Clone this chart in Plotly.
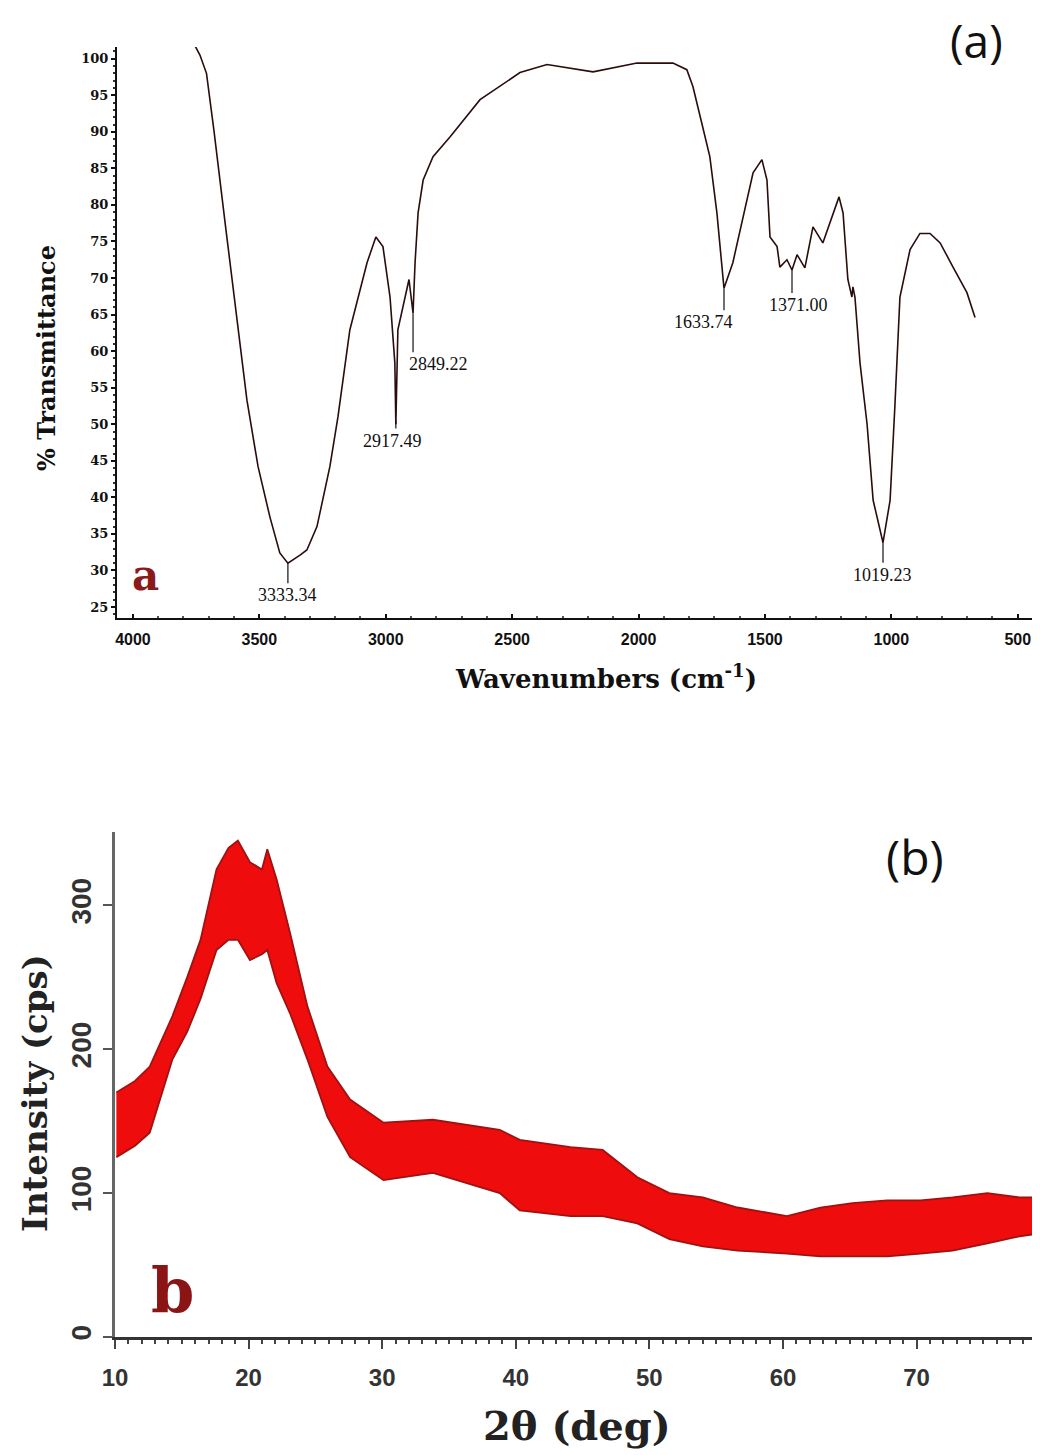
import plotly.graph_objects as go

# ---------------- FTIR data (panel a) ----------------
ftir_wn = [3755, 3735, 3709, 3680, 3632, 3569, 3549, 3505, 3458, 3419, 3387, 3339, 3312,
           3272, 3221, 3189, 3142, 3074, 3039, 3011, 2983, 2964, 2960, 2952, 2924, 2908,
           2892, 2884, 2872, 2852, 2813, 2746, 2627, 2469, 2362, 2180, 2006, 1864, 1809,
           1785, 1750, 1718, 1690, 1662, 1627, 1587, 1547, 1512, 1492, 1480, 1452, 1441,
           1413, 1393, 1373, 1342, 1310, 1271, 1235, 1207, 1191, 1172, 1156, 1152, 1144,
           1124, 1096, 1072, 1033, 1005, 986, 966, 926, 887, 847, 807, 756, 701, 669]
ftir_T = [101.8, 100.5, 98.0, 90.3, 76.6, 58.4, 53.3, 44.2, 37.3, 32.4, 31.0, 32.1, 32.8,
          36.0, 44.2, 51.0, 62.9, 72.1, 75.6, 74.3, 67.4, 58.4, 50.0, 62.9, 67.4, 69.8,
          65.2, 72.1, 78.9, 83.4, 86.6, 89.3, 94.4, 98.1, 99.2, 98.2, 99.4, 99.4, 98.5,
          96.2, 91.2, 86.6, 78.9, 68.6, 72.1, 78.4, 84.4, 86.2, 83.4, 75.6, 74.3, 71.5,
          72.5, 71.1, 73.2, 71.4, 77.0, 74.8, 78.4, 81.1, 78.9, 69.8, 67.4, 68.8, 67.4,
          58.4, 50.0, 39.6, 33.8, 39.6, 52.5, 67.4, 73.9, 76.1, 76.1, 74.8, 71.5, 68.0, 64.6]

peak_wn = [3387, 2960, 2892, 1662, 1393, 1033]
peak_T = [31.0, 50.5, 65.2, 68.6, 71.1, 33.8]
peak_text = ["3333.34", "2917.49", "2849.22", "1633.74", "1371.00", "1019.23"]

ftir_xticks = [4000, 3500, 3000, 2500, 2000, 1500, 1000, 500]
ftir_yticks = [25, 30, 35, 40, 45, 50, 55, 60, 65, 70, 75, 80, 85, 90, 95, 100]

# ---------------- XRD data (panel b): envelope of the noisy band ----------------
xrd_2theta = [10.1, 11.5, 12.6, 14.3, 15.4, 16.4, 17.6, 18.5, 19.2, 20.1, 21.0, 21.4, 22.1,
              23.1, 24.4, 25.9, 27.6, 30.1, 33.8, 36.0, 38.8, 40.3, 44.1, 46.5, 49.1, 51.5,
              54.0, 56.6, 60.3, 62.8, 65.2, 67.8, 70.3, 72.7, 75.3, 77.7, 79.2]
xrd_upper = [170, 178, 188, 223, 250, 276, 325, 340, 345, 330, 325, 339, 318,
             281, 230, 188, 165, 149, 151, 148, 144, 137, 132, 130, 111, 100,
             97, 90, 84, 90, 93, 95, 95, 97, 100, 97, 97]
xrd_lower = [125, 133, 142, 193, 212, 235, 269, 276, 276, 262, 266, 269, 246,
             225, 193, 153, 125, 109, 114, 108, 100, 88, 84, 84, 79, 68,
             63, 60, 58, 56, 56, 56, 58, 60, 65, 70, 72]

xrd_xticks = [10, 20, 30, 40, 50, 60, 70]
xrd_yticks = [0, 100, 200, 300]

W, H = 1040, 1455
OFF = 8  # page body margin


def px(x):
    return (x - OFF) / W


def py(y):
    return 1 - (y - OFF) / H


fig = go.Figure()

fig.add_trace(go.Scatter(x=ftir_wn, y=ftir_T, mode="lines",
                         line=dict(color="#2a0c0c", width=1.6),
                         xaxis="x", yaxis="y", showlegend=False, hoverinfo="skip"))

band_x = xrd_2theta + xrd_2theta[::-1]
band_y = xrd_upper + xrd_lower[::-1]
fig.add_trace(go.Scatter(x=band_x, y=band_y, mode="lines", fill="toself",
                         fillcolor="#ee0c0c", line=dict(color="#a01212", width=1.8),
                         xaxis="x2", yaxis="y2", showlegend=False, hoverinfo="skip"))

line_len = [20, 8, 39, 22, 23, 20]
text_dx = [0, -3, 25, -20, 6, -1]
shapes = []
annotations = []
for wn, t, txt, L, dx in zip(peak_wn, peak_T, peak_text, line_len, text_dx):
    shapes.append(dict(type="line", xref="x", yref="y", ysizemode="pixel", yanchor=t,
                       x0=wn, x1=wn, y0=0, y1=-L, line=dict(color="#111", width=1.2)))
    annotations.append(dict(x=wn, y=t, xref="x", yref="y", text=txt, showarrow=False,
                            yanchor="top", xanchor="center", yshift=-L, xshift=dx,
                            font=dict(family="Liberation Serif", size=18, color="#111")))


def label(x, y, text, size, family, color, angle=0):
    return dict(x=px(x), y=py(y), xref="paper", yref="paper", text=text, showarrow=False,
                xanchor="center", yanchor="middle", textangle=angle,
                font=dict(family=family, size=size, color=color))


annotations += [
    label(46, 358, "<b>% Transmittance</b>", 24, "DejaVu Serif", "#111", -90),
    label(606, 677, "<b>Wavenumbers (cm<sup>-1</sup>)</b>", 26, "DejaVu Serif", "#111"),
    label(976, 40, "(a)", 46, "Open Sans", "#111"),
    label(145, 576, "<b>a</b>", 42, "DejaVu Serif", "#8b1a1a"),
    label(35, 1093, "<b>Intensity (cps)</b>", 34, "DejaVu Serif", "#222", -90),
    label(577, 1425, "<b>2θ (deg)</b>", 40, "DejaVu Serif", "#222"),
    label(915, 856, "(b)", 48, "Open Sans", "#111"),
    label(172, 1290, "<b>b</b>", 62, "DejaVu Serif", "#8b1414"),
]

fig.update_layout(
    width=W, height=H,
    margin=dict(l=0, r=0, t=0, b=0, autoexpand=False),
    paper_bgcolor="white", plot_bgcolor="white",
    showlegend=False,
    shapes=shapes,
    annotations=annotations,
    xaxis=dict(domain=[px(117), px(1040)], range=[4063, 412], anchor="y", automargin=False,
               tickmode="array", tickvals=ftir_xticks,
               ticks="inside", ticklen=4, tickwidth=1.5, tickcolor="#111",
               minor=dict(dtick=100, ticks="inside", ticklen=2, tickcolor="#555"),
               showline=True, linecolor="#111", linewidth=2.2, showgrid=False,
               zeroline=False, ticklabelstandoff=6,
               tickfont=dict(family="Liberation Sans Narrow, Liberation Sans", size=16,
                             color="#111", weight="bold")),
    yaxis=dict(domain=[py(618), py(47)], range=[23.5, 101.6], anchor="x", automargin=False,
               tickmode="array", tickvals=ftir_yticks,
               ticks="outside", ticklen=4, tickwidth=1.5, tickcolor="#111",
               minor=dict(dtick=1, ticks="outside", ticklen=2, tickcolor="#333"),
               showline=True, linecolor="#111", linewidth=2.2, showgrid=False,
               zeroline=False,
               tickfont=dict(family="DejaVu Serif", size=13, color="#111", weight="bold")),
    xaxis2=dict(domain=[px(115), px(1040)], range=[10, 79.24], anchor="y2", automargin=False,
                tickmode="array", tickvals=xrd_xticks,
                ticks="outside", ticklen=9, tickwidth=2, tickcolor="#444",
                minor=dict(dtick=1, ticks="outside", ticklen=4, tickcolor="#444"),
                showline=True, linecolor="#333", linewidth=2.5, showgrid=False,
                zeroline=False, ticklabelstandoff=8,
                tickfont=dict(family="Liberation Sans", size=24, color="#333", weight="bold")),
    yaxis2=dict(domain=[py(1337), py(832)], range=[0, 351], anchor="x2", automargin=False,
                tickmode="array", tickvals=xrd_yticks,
                ticks="outside", ticklen=9, tickwidth=2, tickcolor="#555",
                showline=True, linecolor="#666", linewidth=3, showgrid=False,
                zeroline=False, tickangle=-90, ticklabelstandoff=1,
                tickfont=dict(family="Liberation Sans", size=28, color="#333", weight="bold")),
)

fig.write_html("out.html")
